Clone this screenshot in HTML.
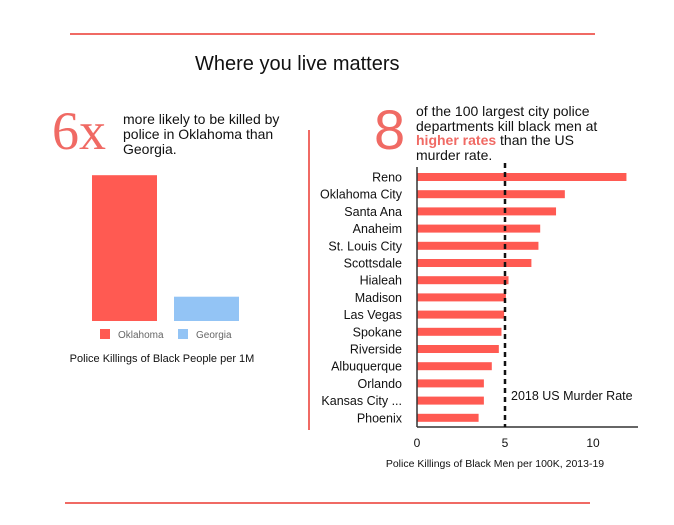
<!DOCTYPE html>
<html><head><meta charset="utf-8"><style>
body{margin:0;width:674px;height:525px;background:#fff;font-family:"Liberation Sans",sans-serif;overflow:hidden;position:relative}
.a{position:absolute}
</style></head><body>
<div class="a" style="left:70px;top:33px;width:525px;height:2px;background:#f06a64"></div>
<div class="a" style="left:65px;top:502px;width:525px;height:2px;background:#f06a64"></div>
<div class="a" style="left:195px;top:53px;font-size:20px;color:#111">Where you live matters</div>
<div class="a" style="left:308px;top:130px;width:2px;height:300px;background:#f06a64"></div>
<div class="a" style="left:52px;top:104px;font-family:'Liberation Serif',serif;font-size:54px;line-height:54px;color:#f06a64">6x</div>
<div class="a" style="left:123px;top:112px;font-size:14px;line-height:15px;color:#111">more likely to be killed by<br>police in Oklahoma than<br>Georgia.</div>
<div class="a" style="left:374px;top:102px;font-size:56px;line-height:56px;color:#f06a64">8</div>
<div class="a" style="left:416px;top:104px;font-size:14px;line-height:14.5px;color:#111">of the 100 largest city police<br>departments kill black men at<br><b style="color:#f06a64">higher rates</b> than the US<br>murder rate.</div>
<svg class="a" style="left:0;top:0" width="674" height="525" id="svg"></svg>
<script>
const stateCats=["Oklahoma","Georgia"];
const stateVals=[6,1];
const cities=["Reno","Oklahoma City","Santa Ana","Anaheim","St. Louis City","Scottsdale","Hialeah","Madison","Las Vegas","Spokane","Riverside","Albuquerque","Orlando","Kansas City ...","Phoenix"];
const cityVals=[11.9,8.4,7.9,7.0,6.9,6.5,5.2,5.05,4.95,4.8,4.65,4.25,3.8,3.8,3.5];
const xTicks=[0,5,10];
const murderRate=5;
const NS="http://www.w3.org/2000/svg";
const svg=document.getElementById('svg');
function mk(t,a,p){const e=document.createElementNS(NS,t);for(const k in a)e.setAttribute(k,a[k]);(p||svg).appendChild(e);return e;}
const ly=v=>321-v*24.3;
const colors=["#ff5a52","#93c4f5"];
stateCats.forEach((c,i)=>{
 const x=92+i*82;
 const r=mk('rect',{x:x,y:ly(stateVals[i]),width:65,height:321-ly(stateVals[i]),fill:colors[i]});
 
 
 const s=mk('rect',{x:100+i*78,y:329,width:10,height:10,fill:colors[i]});
 
 
 const t=mk('text',{x:118+i*78,y:338,'font-size':10,fill:'#666'});t.textContent=c;
 
 
});
let cap=mk('text',{x:162,y:362,'font-size':11,fill:'#111','text-anchor':'middle'});cap.textContent="Police Killings of Black People per 1M";

const x0=417,ppu=17.6;
const sx=v=>x0+v*ppu;
const rowY=i=>177+i*17.2;
cities.forEach((c,i)=>{
 const b=mk('rect',{x:x0,y:rowY(i)-4,width:sx(cityVals[i])-x0,height:8,fill:'#ff5a52'});
 
 
 const t=mk('text',{x:402,y:rowY(i)+4.5,'font-size':12.5,fill:'#111','text-anchor':'end'});t.textContent=c;
 
 
});
let ax=mk('line',{x1:x0,y1:167,x2:x0,y2:427,stroke:'#333','stroke-width':1.5});

let bx=mk('line',{x1:x0,y1:427,x2:638,y2:427,stroke:'#333','stroke-width':1.5});

xTicks.forEach(v=>{const t=mk('text',{x:sx(v),y:447,'font-size':12,fill:'#111','text-anchor':'middle'});t.textContent=v;
 });
let ml=mk('line',{x1:sx(murderRate),y1:163,x2:sx(murderRate),y2:427,stroke:'#111','stroke-width':2.5,'stroke-dasharray':'5,4'});

let mt=mk('text',{x:sx(murderRate)+6,y:400,'font-size':12.5,fill:'#111'});mt.textContent="2018 US Murder Rate";

let xt=mk('text',{x:495,y:467,'font-size':10.5,fill:'#111','text-anchor':'middle'});xt.textContent="Police Killings of Black Men per 100K, 2013-19";

</script>
</body></html>
